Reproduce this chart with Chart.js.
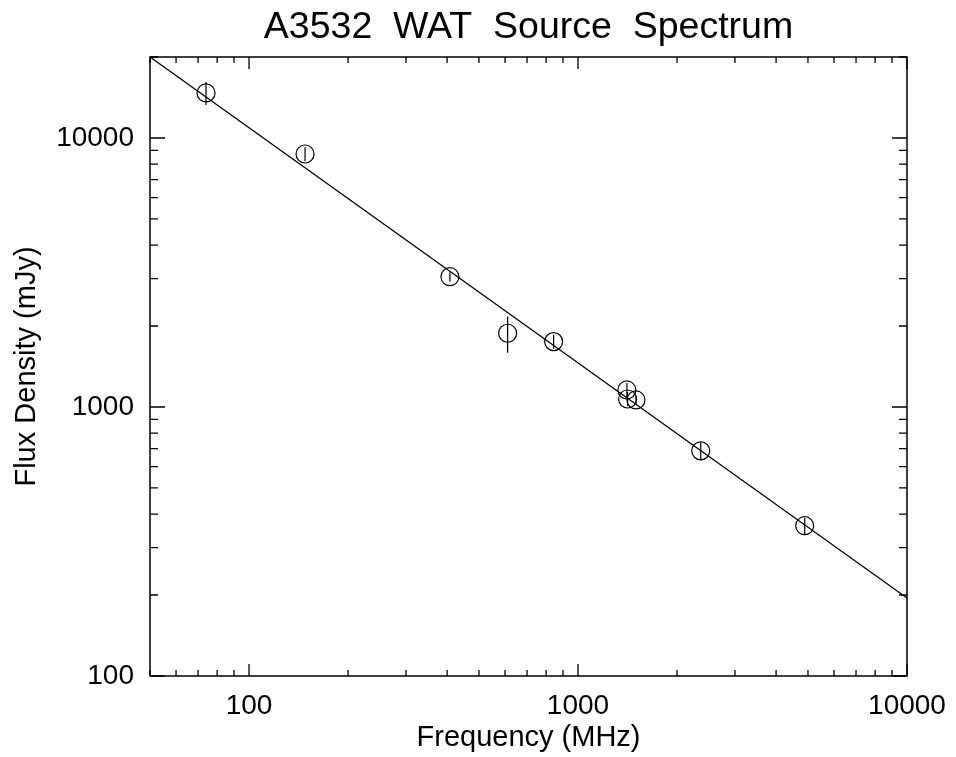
<!DOCTYPE html>
<html>
<head>
<meta charset="utf-8">
<title>A3532 WAT Source Spectrum</title>
<script src="https://cdn.jsdelivr.net/npm/chart.js@4/dist/chart.umd.min.js"></script>
<style>
  html, body { margin: 0; padding: 0; background: #fff; }
  #chart { display: block; }
</style>
</head>
<body>
<canvas id="chart" width="956" height="757"></canvas>
<script>
// Measured points (frequency in MHz, flux density in mJy)
const freqMHz = [74, 148, 408, 611, 843, 1408, 1415, 1500, 2361, 4887];
const fluxMJy = [14700, 8720, 3050, 1880, 1750, 1157, 1071, 1062, 687, 362];
const fluxErr = [1450, 520, 120, 290, 105, 70, 65, 40, 50, 25];

// Power-law fit, read at the plot edges
const fitFreq = [50, 10000];
const fitFlux = [20000, 195];

// Axis ticks (log, major + minor) and which of them get a label
const xTicks = [50, 60, 70, 80, 90, 100, 200, 300, 400, 500, 600, 700, 800, 900,
  1000, 2000, 3000, 4000, 5000, 6000, 7000, 8000, 9000, 10000];
const yTicks = [100, 200, 300, 400, 500, 600, 700, 800, 900,
  1000, 2000, 3000, 4000, 5000, 6000, 7000, 8000, 9000, 10000, 20000];
const xLabels = [100, 1000, 10000];
const yLabels = [100, 1000, 10000];

const FONT = '"Liberation Sans", Arial, Helvetica, sans-serif';
const INK = '#000';

// Error bars, drawn through the chart scales
const errorBars = {
  id: 'errorBars',
  afterDatasetsDraw(chart) {
    const { ctx, scales: { x, y } } = chart;
    ctx.save();
    ctx.strokeStyle = INK;
    ctx.lineWidth = 1.2;
    freqMHz.forEach((f, i) => {
      const px = x.getPixelForValue(f);
      ctx.beginPath();
      ctx.moveTo(px, y.getPixelForValue(fluxMJy[i] + fluxErr[i]));
      ctx.lineTo(px, y.getPixelForValue(fluxMJy[i] - fluxErr[i]));
      ctx.stroke();
    });
    ctx.restore();
  }
};

// Box frame with inward ticks on all four sides
const frameTicks = {
  id: 'frameTicks',
  afterDraw(chart) {
    const { ctx, chartArea: a, scales: { x, y } } = chart;
    ctx.save();
    ctx.strokeStyle = INK;
    ctx.lineWidth = 1.5;
    ctx.strokeRect(a.left, a.top, a.right - a.left, a.bottom - a.top);

    ctx.lineWidth = 1.3;
    ctx.beginPath();
    xTicks.forEach(v => {
      const px = x.getPixelForValue(v);
      const len = xLabels.includes(v) ? 12 : 6;
      ctx.moveTo(px, a.bottom); ctx.lineTo(px, a.bottom - len);
      ctx.moveTo(px, a.top); ctx.lineTo(px, a.top + len);
    });
    yTicks.forEach(v => {
      const py = y.getPixelForValue(v);
      const len = yLabels.includes(v) ? 15 : 8;
      ctx.moveTo(a.left, py); ctx.lineTo(a.left + len, py);
      ctx.moveTo(a.right, py); ctx.lineTo(a.right - len, py);
    });
    ctx.stroke();
    ctx.restore();
  }
};

new Chart(document.getElementById('chart'), {
  type: 'scatter',
  data: {
    datasets: [
      {
        label: 'Fit',
        type: 'line',
        xAxisID: 'x',
        yAxisID: 'y',
        data: fitFreq.map((f, i) => ({ x: f, y: fitFlux[i] })),
        borderColor: INK,
        borderWidth: 1.3,
        pointRadius: 0,
        fill: false
      },
      {
        label: 'Flux',
        xAxisID: 'x',
        yAxisID: 'y',
        data: freqMHz.map((f, i) => ({ x: f, y: fluxMJy[i] })),
        pointStyle: 'circle',
        pointRadius: 9,
        pointBorderWidth: 1.2,
        pointBorderColor: INK,
        pointBackgroundColor: 'rgba(0,0,0,0)'
      }
    ]
  },
  options: {
    responsive: false,
    animation: false,
    devicePixelRatio: 1,
    layout: { padding: { left: 0, right: 49, top: 0, bottom: 0 } },
    plugins: {
      legend: { display: false },
      tooltip: { enabled: false },
      title: { display: false }
    },
    scales: {
      // top axis only carries the plot title, centred over the plot box
      top: {
        type: 'linear',
        axis: 'x',
        position: 'top',
        afterFit: s => { s.height = 57; },
        grid: { display: false },
        border: { display: false },
        ticks: { display: false },
        title: {
          display: true,
          text: 'A3532  WAT  Source  Spectrum',
          color: INK,
          font: { family: FONT, size: 37.5, lineHeight: 1.2 },
          padding: { top: 5, bottom: 0 }
        }
      },
      x: {
        type: 'logarithmic',
        position: 'bottom',
        min: 50,
        max: 10000,
        afterBuildTicks: s => { s.ticks = xTicks.map(v => ({ value: v })); },
        afterFit: s => { s.height = 81; },
        grid: { display: false },
        border: { display: false },
        ticks: {
          autoSkip: false,
          maxRotation: 0,
          padding: 5,
          color: INK,
          font: { family: FONT, size: 28 },
          callback: v => xLabels.includes(v) ? String(v) : ''
        },
        title: {
          display: true,
          text: 'Frequency (MHz)',
          color: INK,
          font: { family: FONT, size: 29, lineHeight: 1.2 },
          padding: { top: 0, bottom: 2 }
        }
      },
      y: {
        type: 'logarithmic',
        position: 'left',
        min: 100,
        max: 20000,
        afterBuildTicks: s => { s.ticks = yTicks.map(v => ({ value: v })); },
        afterFit: s => { s.width = 150; },
        grid: { display: false },
        border: { display: false },
        ticks: {
          autoSkip: false,
          padding: 8,
          color: INK,
          font: { family: FONT, size: 28 },
          callback: v => yLabels.includes(v) ? String(v) : ''
        },
        title: {
          display: true,
          text: 'Flux Density (mJy)',
          color: INK,
          font: { family: FONT, size: 29, lineHeight: 1.2 },
          padding: { top: 10, bottom: 0 }
        }
      }
    }
  },
  plugins: [errorBars, frameTicks]
});
</script>
</body>
</html>
